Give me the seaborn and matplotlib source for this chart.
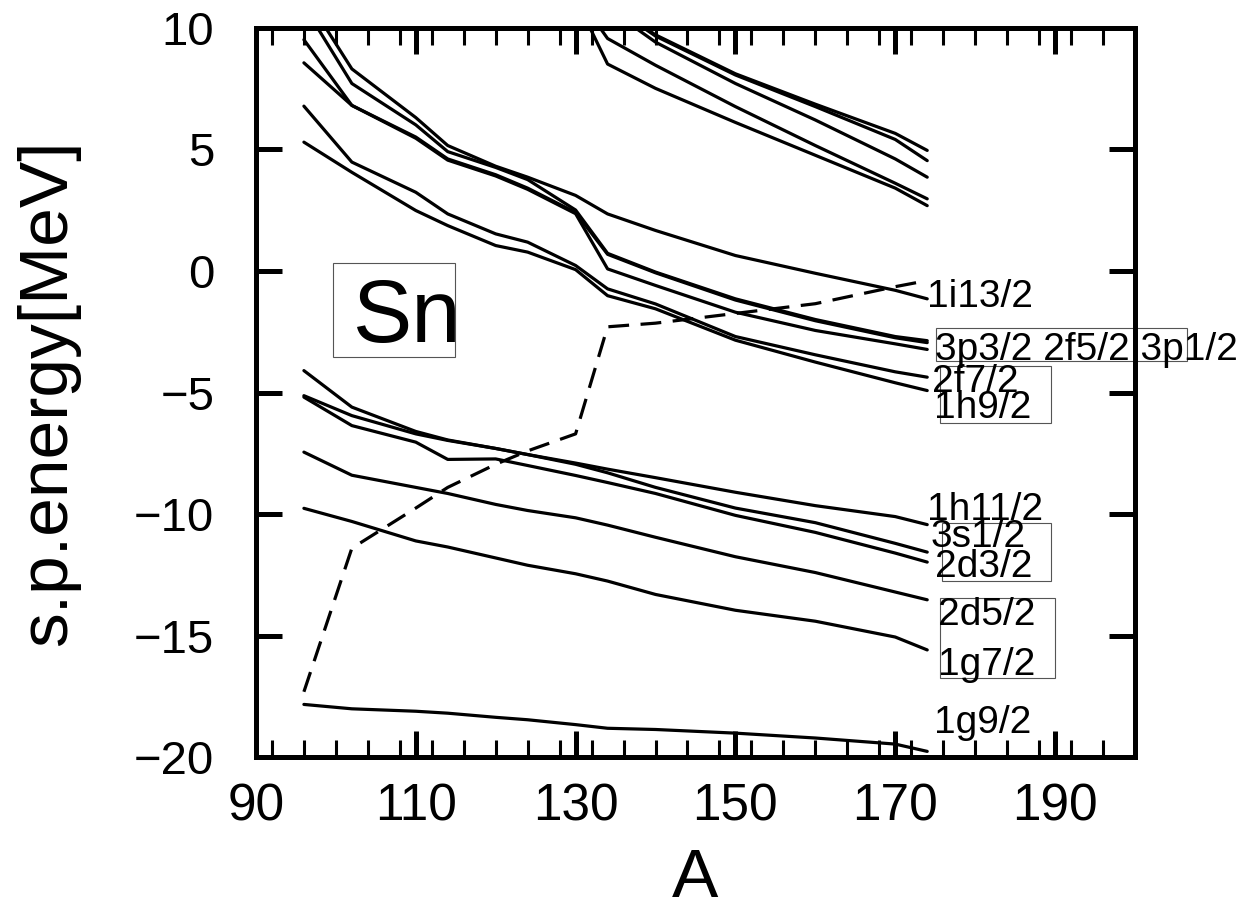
import numpy as np
import pandas as pd
import matplotlib
matplotlib.use("Agg")
import matplotlib.pyplot as plt
import seaborn as sns
from matplotlib.patches import Rectangle
from matplotlib.ticker import MultipleLocator

# ---------------- data ----------------
A = [96, 102, 110, 114, 120, 124, 130, 134, 140, 150, 160, 170, 174]
lvl_1g9 = [-17.82, -18.0, -18.1, -18.18, -18.35, -18.45, -18.65, -18.8, -18.85, -19.0, -19.2, -19.45, -19.75]
lvl_1g7 = [-9.76, -10.3, -11.1, -11.35, -11.8, -12.1, -12.45, -12.75, -13.3, -13.95, -14.4, -15.05, -15.58]
lvl_2d5 = [-7.45, -8.4, -8.9, -9.15, -9.6, -9.85, -10.15, -10.45, -10.95, -11.75, -12.4, -13.2, -13.52]
lvl_1h11 = [-4.1, -5.6, -6.6, -6.95, -7.3, -7.55, -7.9, -8.15, -8.5, -9.1, -9.65, -10.1, -10.43]
lvl_3s1 = [-5.13, -5.95, -6.7, -6.97, -7.3, -7.55, -7.95, -8.3, -8.9, -9.75, -10.35, -11.2, -11.56]
lvl_2d3 = [-5.19, -6.36, -7.04, -7.75, -7.73, -8.0, -8.41, -8.7, -9.15, -10.05, -10.75, -11.6, -11.97]
lvl_1h9 = [5.29, 4.05, 2.48, 1.86, 1.04, 0.77, 0.05, -1.02, -1.56, -2.85, -3.75, -4.6, -4.92]
lvl_2f7 = [6.77, 4.47, 3.23, 2.34, 1.52, 1.18, 0.22, -0.74, -1.36, -2.7, -3.45, -4.15, -4.37]
lvl_3p1 = [8.55, 6.8, 5.45, 4.55, 3.9, 3.35, 2.35, 0.08, -0.6, -1.7, -2.45, -3.0, -3.23]
lvl_2f5 = [9.5, 6.8, 5.5, 4.6, 3.95, 3.4, 2.4, 0.68, -0.08, -1.2, -2.05, -2.75, -2.95]
lvl_3p3 = [10.9, 7.7, 6.0, 4.9, 4.25, 3.75, 2.5, 0.72, -0.05, -1.15, -2.0, -2.7, -2.87]
lvl_1i13 = [11.4, 8.3, 6.3, 5.15, 4.3, 3.85, 3.1, 2.34, 1.66, 0.63, -0.1, -0.8, -1.15]

A_hi = [130, 134, 140, 150, 160, 170, 174]
lvl_u1 = [11.2, 8.5, 7.5, 6.1, 4.75, 3.4, 2.68]
lvl_u2 = [11.4, 9.55, 8.45, 6.75, 5.15, 3.6, 2.96]
lvl_u3 = [12.4, 10.8, 9.4, 7.7, 6.2, 4.6, 3.85]
lvl_u4 = [12.6, 11.0, 9.65, 8.05, 6.75, 5.4, 4.53]
lvl_u5 = [12.6, 11.0, 9.7, 8.1, 6.85, 5.65, 4.95]

fermi = [-17.3, -11.4, -9.75, -8.9, -7.95, -7.4, -6.7, -2.3, -2.15, -1.75, -1.35, -0.65, -0.4]

labels = ["1i13/2", "3p3/2 2f5/2 3p1/2", "2f7/2", "1h9/2", "1h11/2",
          "3s1/2", "2d3/2", "2d5/2", "1g7/2", "1g9/2"]

xticks = [90, 110, 130, 150, 170, 190]
yticks = [-20, -15, -10, -5, 0, 5, 10]

# ---------------- long-form table ----------------
low = {"1g9/2": lvl_1g9, "1g7/2": lvl_1g7, "2d5/2": lvl_2d5, "1h11/2": lvl_1h11,
       "3s1/2": lvl_3s1, "2d3/2": lvl_2d3, "1h9/2": lvl_1h9, "2f7/2": lvl_2f7,
       "3p1/2": lvl_3p1, "2f5/2": lvl_2f5, "3p3/2": lvl_3p3, "1i13/2": lvl_1i13}
high = {"u1": lvl_u1, "u2": lvl_u2, "u3": lvl_u3, "u4": lvl_u4, "u5": lvl_u5}
rows = []
for name, vals in low.items():
    rows += [(name, a, e) for a, e in zip(A, vals)]
for name, vals in high.items():
    rows += [(name, a, e) for a, e in zip(A_hi, vals)]
df = pd.DataFrame(rows, columns=["level", "A", "E"])
df_f = pd.DataFrame({"A": A, "E": fermi})

# ---------------- style ----------------
sns.set_theme(style="ticks")
plt.rcParams["font.family"] = ["Liberation Sans", "DejaVu Sans"]
plt.rcParams["axes.unicode_minus"] = True
plt.rcParams["text.color"] = "black"
plt.rcParams["axes.labelcolor"] = "black"
plt.rcParams["xtick.color"] = "black"
plt.rcParams["ytick.color"] = "black"
plt.rcParams["xtick.labelcolor"] = "black"
plt.rcParams["ytick.labelcolor"] = "black"

fig = plt.figure(figsize=(12.59, 9.09), dpi=100)
ax = fig.add_axes([0.2033, 0.1667, 0.6982, 0.8030])

sns.lineplot(data=df, x="A", y="E", units="level", estimator=None, color="black",
             linewidth=2.3, ax=ax, legend=False)
sns.lineplot(data=df_f, x="A", y="E", color="black", linewidth=2.3,
             linestyle=(0, (6.5, 3.6)), ax=ax, legend=False)

ax.set_xlim(90, 200)
ax.set_ylim(-20, 10)
ax.set_xticks(xticks)
ax.set_xticklabels([str(t) for t in xticks])
ax.set_yticks(yticks)
ax.set_yticklabels([f"\u2212{abs(t)}" if t < 0 else str(t) for t in yticks])
ax.xaxis.set_minor_locator(MultipleLocator(4))

for s in ax.spines.values():
    s.set_linewidth(3.6)
    s.set_color("black")
ax.tick_params(which="both", direction="in", top=True, right=True, colors="black",
               labelcolor="black")
ax.tick_params(which="major", length=19, width=3.6)
ax.tick_params(which="minor", length=12, width=2.2)
ax.tick_params(axis="x", which="major", labelsize=37, pad=18)
ax.tick_params(axis="y", which="major", labelsize=34, pad=30)

ax.set_xlabel("A", fontsize=50, color="black")
ax.set_ylabel("s.p.energy[MeV]", fontsize=50, color="black")
ax.xaxis.set_label_coords(0.5, -0.1226)
ax.yaxis.set_label_coords(-0.2002, 0.5)

# level labels
lab_x = [174.0, 175.0, 174.6, 174.8, 174.0, 174.4, 175.0, 175.3, 175.3, 174.8]
lab_y = [-1.49, -3.67, -4.98, -6.05, -10.24, -11.35, -12.58, -14.55, -16.6, -19.0]
for t, x, y in zip(labels, lab_x, lab_y):
    ax.text(x, y, t, fontsize=28, va="baseline", ha="left", clip_on=False,
            color="black")

# label boxes
boxes = [(175.1, -3.71, 31.4, 1.36), (175.6, -6.26, 13.9, 2.35),
         (175.9, -12.75, 13.6, 2.38), (175.6, -16.74, 14.4, 3.29)]
for (x0, y0, w, h) in boxes:
    ax.add_patch(Rectangle((x0, y0), w, h, fill=False, edgecolor="#555555",
                           linewidth=0.8, clip_on=False))

# Sn box
ax.add_patch(Rectangle((99.6, -3.54), 15.3, 3.86, fill=False, edgecolor="#555555",
                       linewidth=0.8))
ax.text(102.1, -2.93, "Sn", fontsize=64, va="baseline", ha="left", color="black")

fig.savefig("out.png", dpi=100)
